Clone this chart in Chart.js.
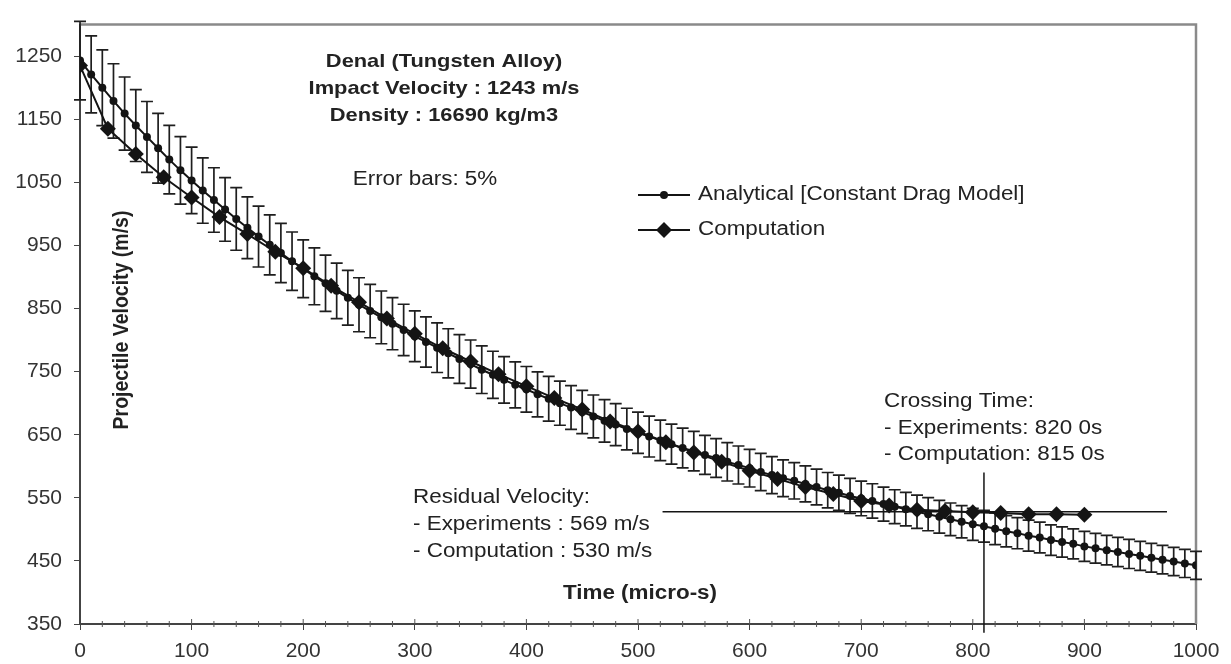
<!DOCTYPE html>
<html>
<head>
<meta charset="utf-8">
<script src="https://cdn.jsdelivr.net/npm/chart.js@4.4.1/dist/chart.umd.min.js"></script>
<style>
    html, body { margin: 0; padding: 0; background: #fff; }
    #wrap { width: 1231px; height: 664px; position: relative; }
</style>
</head>
<body>
<div id="wrap"><canvas id="velocityChart"></canvas></div>
<script>
// time (micro-s) of the analytical points, one every 10
const analyticalTime = [
    0, 10, 20, 30, 40, 50, 60, 70, 80, 90,
    100, 110, 120, 130, 140, 150, 160, 170, 180, 190,
    200, 210, 220, 230, 240, 250, 260, 270, 280, 290,
    300, 310, 320, 330, 340, 350, 360, 370, 380, 390,
    400, 410, 420, 430, 440, 450, 460, 470, 480, 490,
    500, 510, 520, 530, 540, 550, 560, 570, 580, 590,
    600, 610, 620, 630, 640, 650, 660, 670, 680, 690,
    700, 710, 720, 730, 740, 750, 760, 770, 780, 790,
    800, 810, 820, 830, 840, 850, 860, 870, 880, 890,
    900, 910, 920, 930, 940, 950, 960, 970, 980, 990,
    1000
];
const analyticalVelocity = [
    1243, 1221, 1200, 1179, 1159, 1140, 1122, 1104, 1086, 1069,
    1053, 1037, 1022, 1007, 992, 978, 964, 951, 938, 925,
    913, 901, 890, 878, 867, 856, 846, 836, 826, 816,
    806, 797, 788, 779, 770, 762, 753, 745, 737, 729,
    722, 714, 707, 700, 693, 686, 679, 672, 666, 659,
    653, 647, 641, 635, 629, 624, 618, 613, 607, 602,
    597, 591, 586, 581, 577, 572, 567, 562, 558, 553,
    549, 545, 540, 536, 532, 528, 524, 520, 516, 512,
    508, 505, 501, 497, 494, 490, 487, 483, 480, 477,
    473, 470, 467, 464, 461, 458, 455, 452, 449, 446,
    443
];

const computationTime = [
    0, 25, 50, 75, 100, 125, 150, 175, 200, 225,
    250, 275, 300, 325, 350, 375, 400, 425, 450, 475,
    500, 525, 550, 575, 600, 625, 650, 675, 700, 725,
    750, 775, 800, 825, 850, 875, 900
];
const computationVelocity = [
    1235, 1135, 1095, 1058, 1026, 995, 968, 940, 914, 886,
    860, 834, 810, 787, 766, 746, 727, 708, 690, 671,
    655, 638, 622, 607, 593, 580, 567, 556, 545, 538,
    531, 529, 527, 526, 524, 524, 523
];

const errorFraction = 0.05;

// residual velocity line and crossing time line
const residualTime = [522, 974];
const residualVelocity = [528, 528];
const crossingTime = [810, 810];
const crossingVelocity = [336, 590];

const xTicks = [0, 100, 200, 300, 400, 500, 600, 700, 800, 900, 1000];
const yTicks = [350, 450, 550, 650, 750, 850, 950, 1050, 1150, 1250];

const FONT = "'Liberation Sans', Arial, sans-serif";
const INK = "#141414";

function toPoints(xs, ys) {
    return xs.map((x, i) => ({ x: x, y: ys[i] }));
}

function wideText(ctx, text, x, y, align, font, sx) {
    ctx.save();
    ctx.font = font;
    ctx.fillStyle = "#222";
    ctx.textBaseline = "middle";
    ctx.textAlign = align;
    ctx.translate(x, y);
    ctx.scale(sx, 1);
    ctx.fillText(text, 0, 0);
    ctx.restore();
}

const decorations = {
    id: "decorations",
    beforeDatasetsDraw(chart) {
        const ctx = chart.ctx;
        const xs = chart.scales.x;
        const ys = chart.scales.y;
        const area = chart.chartArea;

        // frame top and right
        ctx.save();
        ctx.strokeStyle = "#8a8a8a";
        ctx.lineWidth = 2.5;
        ctx.beginPath();
        ctx.moveTo(area.left, area.top);
        ctx.lineTo(area.right, area.top);
        ctx.lineTo(area.right, area.bottom);
        ctx.stroke();

        // minor ticks on time axis
        ctx.strokeStyle = "#555";
        ctx.lineWidth = 1;
        for (let v = 20; v < 1000; v += 20) {
            const px = xs.getPixelForValue(v);
            const major = v % 100 === 0;
            ctx.beginPath();
            ctx.moveTo(px, area.bottom - (major ? 5 : 3));
            ctx.lineTo(px, area.bottom + (major ? 0 : 3));
            ctx.stroke();
        }

        // 5% error bars on the analytical curve
        const meta = chart.getDatasetMeta(0);
        ctx.strokeStyle = "#1e1e1e";
        ctx.lineWidth = 1.7;
        meta.data.forEach((pt, i) => {
            const v = analyticalVelocity[i];
            const yTop = ys.getPixelForValue(v * (1 + errorFraction));
            const yBot = ys.getPixelForValue(v * (1 - errorFraction));
            ctx.beginPath();
            ctx.moveTo(pt.x, yTop);
            ctx.lineTo(pt.x, yBot);
            ctx.moveTo(pt.x - 6, yTop);
            ctx.lineTo(pt.x + 6, yTop);
            ctx.moveTo(pt.x - 6, yBot);
            ctx.lineTo(pt.x + 6, yBot);
            ctx.stroke();
        });
        ctx.restore();
    },
    afterDraw(chart) {
        const ctx = chart.ctx;
        const bold = "bold 19px " + FONT;
        const norm = "19.5px " + FONT;
        const sx = 1.15;

        wideText(ctx, "Denal (Tungsten Alloy)", 444, 62, "center", bold, sx);
        wideText(ctx, "Impact Velocity : 1243 m/s", 444, 89, "center", bold, sx);
        wideText(ctx, "Density : 16690 kg/m3", 444, 116, "center", bold, sx);
        wideText(ctx, "Error bars: 5%", 425, 180, "center", norm, sx);

        wideText(ctx, "Crossing Time:", 884, 402, "left", norm, sx);
        wideText(ctx, "- Experiments: 820 0s", 884, 429, "left", norm, sx);
        wideText(ctx, "- Computation: 815 0s", 884, 455, "left", norm, sx);

        wideText(ctx, "Residual Velocity:", 413, 498, "left", norm, sx);
        wideText(ctx, "- Experiments : 569 m/s", 413, 525, "left", norm, sx);
        wideText(ctx, "- Computation : 530 m/s", 413, 552, "left", norm, sx);

        wideText(ctx, "Time (micro-s)", 640, 594, "center", "bold 19.5px " + FONT, sx);

        // vertical axis title
        ctx.save();
        ctx.font = "bold 19.5px " + FONT;
        ctx.fillStyle = "#222";
        ctx.textAlign = "center";
        ctx.textBaseline = "middle";
        ctx.translate(122, 320);
        ctx.rotate(-Math.PI / 2);
        ctx.scale(1, 1.15);
        ctx.fillText("Projectile Velocity (m/s)", 0, 0);
        ctx.restore();

        // legend
        ctx.save();
        ctx.strokeStyle = INK;
        ctx.fillStyle = INK;
        ctx.lineWidth = 2;
        ctx.beginPath();
        ctx.moveTo(638, 195);
        ctx.lineTo(690, 195);
        ctx.moveTo(638, 230);
        ctx.lineTo(690, 230);
        ctx.stroke();
        ctx.beginPath();
        ctx.arc(664, 195, 4, 0, Math.PI * 2);
        ctx.fill();
        ctx.beginPath();
        ctx.moveTo(664, 222);
        ctx.lineTo(672, 230);
        ctx.lineTo(664, 238);
        ctx.lineTo(656, 230);
        ctx.closePath();
        ctx.fill();
        ctx.restore();
        wideText(ctx, "Analytical [Constant Drag Model]", 698, 195, "left", norm, sx);
        wideText(ctx, "Computation", 698, 230, "left", norm, sx);
    }
};

function renderChart() {
    const canvas = document.getElementById("velocityChart");
    const ctx = canvas.getContext("2d");

    new Chart(ctx, {
        type: "scatter",
        data: {
            datasets: [
                {
                    label: "Analytical [Constant Drag Model]",
                    data: toPoints(analyticalTime, analyticalVelocity),
                    showLine: true,
                    borderColor: INK,
                    backgroundColor: INK,
                    borderWidth: 2,
                    pointRadius: 4,
                    pointBorderWidth: 0,
                    order: 2
                },
                {
                    label: "Computation",
                    data: toPoints(computationTime, computationVelocity),
                    showLine: true,
                    borderColor: INK,
                    backgroundColor: INK,
                    borderWidth: 2,
                    pointStyle: "rectRot",
                    pointRadius: 8,
                    pointBorderWidth: 0,
                    order: 1
                },
                {
                    label: "Residual",
                    data: toPoints(residualTime, residualVelocity),
                    showLine: true,
                    borderColor: INK,
                    borderWidth: 1.5,
                    pointRadius: 0,
                    order: 3
                },
                {
                    label: "Crossing",
                    data: toPoints(crossingTime, crossingVelocity),
                    showLine: true,
                    borderColor: INK,
                    borderWidth: 1.5,
                    pointRadius: 0,
                    clip: false,
                    order: 3
                }
            ]
        },
        options: {
            responsive: true,
            maintainAspectRatio: false,
            animation: false,
            devicePixelRatio: 1,
            layout: { padding: { top: 13, right: 35, bottom: 0, left: 0 } },
            plugins: {
                legend: { display: false },
                tooltip: { enabled: false }
            },
            scales: {
                x: {
                    type: "linear",
                    min: 0,
                    max: 1000,
                    afterBuildTicks: s => { s.ticks = xTicks.map(v => ({ value: v })); },
                    afterFit: s => { s.height = 40; },
                    ticks: {
                        color: "#333",
                        font: { family: FONT, size: 21 },
                        padding: 9,
                        maxRotation: 0,
                        autoSkip: false,
                        callback: v => String(v)
                    },
                    grid: { drawOnChartArea: false, tickLength: 6, color: "#444", lineWidth: 1 },
                    border: { color: "#444", width: 2 }
                },
                y: {
                    type: "linear",
                    min: 350,
                    max: 1300,
                    afterBuildTicks: s => { s.ticks = yTicks.map(v => ({ value: v })); },
                    afterFit: s => { s.width = 80; },
                    ticks: {
                        color: "#333",
                        font: { family: FONT, size: 21 },
                        padding: 12,
                        autoSkip: false,
                        callback: v => String(v)
                    },
                    grid: { drawOnChartArea: false, tickLength: 6, color: "#444", lineWidth: 1 },
                    border: { color: "#444", width: 2 }
                }
            }
        },
        plugins: [decorations]
    });
}

document.addEventListener("DOMContentLoaded", () => {
    renderChart();
});
</script>
</body>
</html>
